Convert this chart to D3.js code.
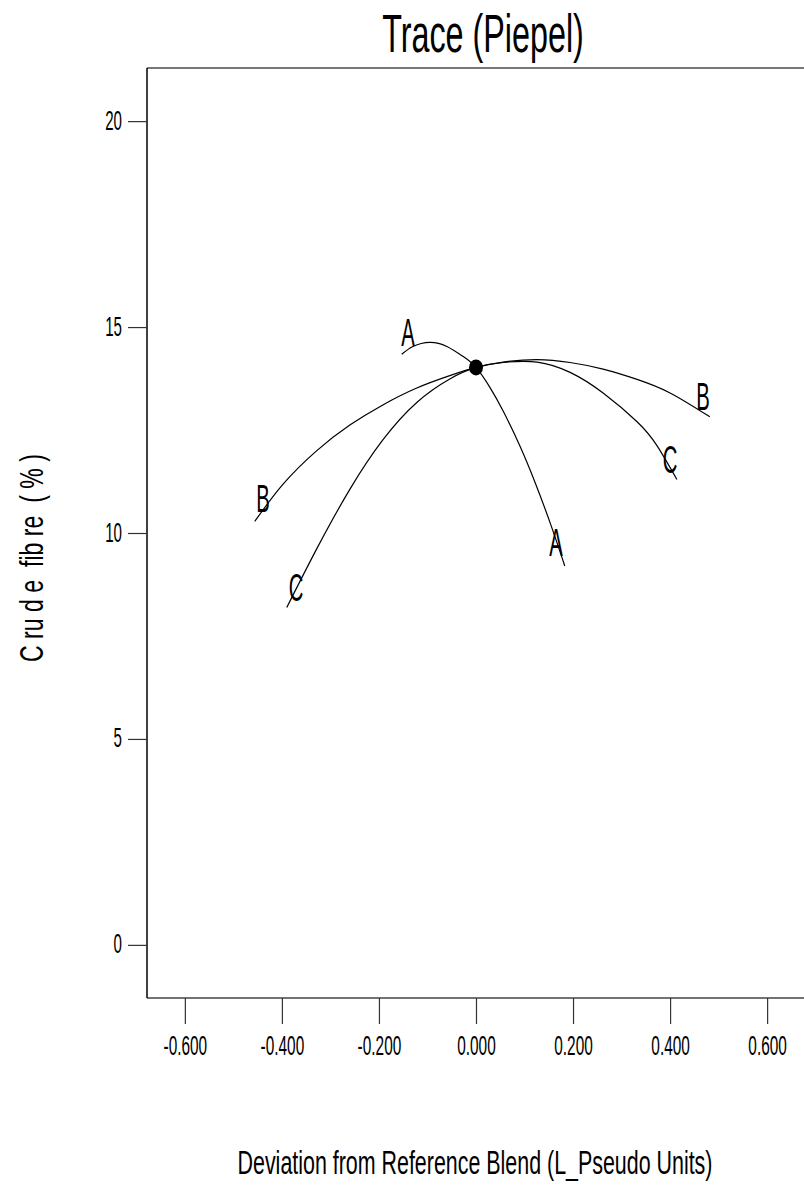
<!DOCTYPE html>
<html>
<head>
<meta charset="utf-8">
<script src="https://cdn.jsdelivr.net/npm/d3@7"></script>
<style>
  body { margin: 0; background: #fff; }
  text { font-family: "Liberation Sans", Arial, sans-serif; fill: #000; }
</style>
</head>
<body>
<div id="chart"></div>
<script>
// Trace (Piepel) data: x = deviation, y = crude fibre (%)
const traceA = [
  [-0.153, 14.34], [-0.130, 14.53], [-0.095, 14.63], [-0.060, 14.53], [-0.027, 14.29],
  [0, 14.02], [0.029, 13.53], [0.056, 12.96], [0.091, 12.10], [0.122, 11.22],
  [0.153, 10.24], [0.183, 9.20]
];
const traceB = [
  [-0.456, 10.28], [-0.398, 11.18], [-0.328, 12.00], [-0.260, 12.62], [-0.192, 13.11],
  [-0.122, 13.52], [-0.054, 13.82], [0, 14.02], [0.056, 14.15], [0.126, 14.21],
  [0.194, 14.14], [0.262, 13.98], [0.332, 13.73], [0.400, 13.40], [0.482, 12.82]
];
const traceC = [
  [-0.390, 8.19], [-0.328, 9.62], [-0.260, 11.06], [-0.192, 12.26], [-0.122, 13.17],
  [-0.054, 13.74], [0, 14.02], [0.056, 14.14], [0.126, 14.15], [0.194, 13.90],
  [0.262, 13.40], [0.332, 12.70], [0.373, 12.12], [0.414, 11.30]
];
const refBlend = [0, 14.02];

// component labels at the ends of each trace
const labelNames = ["A", "A", "B", "B", "C", "C"];
const labelPts = [
  [-0.140, 14.53], [0.165, 9.43], [-0.439, 10.50], [0.468, 12.98], [-0.371, 8.34], [0.400, 11.45]
];

const xTicks = [-0.6, -0.4, -0.2, 0, 0.2, 0.4, 0.6];
const yTicks = [0, 5, 10, 15, 20];

const W = 804, H = 1198;
const plot = { left: 147, top: 68, right: 804, bottom: 998 };

const svg = d3.select("#chart").append("svg")
  .attr("width", W)
  .attr("height", H);

const x = d3.scaleLinear().domain([-0.678, 0.676]).range([plot.left, plot.right]);
const y = d3.scaleLinear().domain([-1.29, 21.29]).range([plot.bottom, plot.top]);

// narrow the glyphs horizontally (the original uses a condensed face)
function squeeze(sel, k) {
  sel.each(function() {
    const t = d3.select(this);
    const x0 = +t.attr("x") || 0;
    t.attr("x", x0 / k).attr("transform", "scale(" + k + ",1)");
  });
}

// frame
svg.append("line")
  .attr("x1", plot.left).attr("x2", plot.right + 2).attr("y1", plot.top).attr("y2", plot.top)
  .attr("stroke", "#777").attr("stroke-width", 2);
svg.append("line")
  .attr("x1", plot.left).attr("x2", plot.right + 2).attr("y1", plot.bottom).attr("y2", plot.bottom)
  .attr("stroke", "#444").attr("stroke-width", 1.5);

// Y axis
const gy = svg.append("g")
  .attr("transform", "translate(" + plot.left + ",0)")
  .call(d3.axisLeft(y).tickValues(yTicks).tickSize(19).tickPadding(6).tickFormat(d3.format("d")));
gy.select(".domain").attr("stroke", "#000").attr("stroke-width", 1.5)
  .attr("d", "M0," + plot.top + "V" + plot.bottom);
gy.selectAll(".tick line").attr("stroke", "#333").attr("stroke-width", 1.2);
gy.selectAll(".tick text")
  .attr("font-size", 28).attr("dy", 0).attr("y", 8)
  .call(squeeze, 0.54);

// X axis
const gx = svg.append("g")
  .attr("transform", "translate(0," + plot.bottom + ")")
  .call(d3.axisBottom(x).tickValues(xTicks).tickSize(26).tickFormat(d => d.toFixed(3)));
gx.select(".domain").remove();
gx.selectAll(".tick line").attr("stroke", "#333").attr("stroke-width", 1.2);
gx.selectAll(".tick text")
  .attr("font-size", 28).attr("dy", 0).attr("y", 57)
  .call(squeeze, 0.55);

// traces
const line = d3.line()
  .x(d => x(d[0]))
  .y(d => y(d[1]))
  .curve(d3.curveNatural);

svg.selectAll(".trace")
  .data([traceA, traceB, traceC])
  .enter()
  .append("path")
    .attr("class", "trace")
    .attr("d", line)
    .attr("fill", "none")
    .attr("stroke", "#000")
    .attr("stroke-width", 1.2);

// reference blend
svg.append("ellipse")
  .attr("cx", x(refBlend[0]))
  .attr("cy", y(refBlend[1]))
  .attr("rx", 7).attr("ry", 8)
  .attr("fill", "#000");

// component labels
svg.selectAll(".comp")
  .data(labelPts)
  .enter()
  .append("g")
    .attr("transform", d => "translate(" + x(d[0]) + "," + y(d[1]) + ")")
  .append("text")
    .attr("text-anchor", "middle")
    .attr("font-size", 39)
    .attr("transform", "scale(0.52,1)")
    .text((d, i) => labelNames[i]);

// title
svg.append("g")
  .attr("transform", "translate(483,52)")
  .append("text")
    .attr("text-anchor", "middle")
    .attr("font-size", 53)
    .attr("transform", "scale(0.61,1)")
    .text("Trace (Piepel)");

// x label
svg.append("g")
  .attr("transform", "translate(475,1174)")
  .append("text")
    .attr("text-anchor", "middle")
    .attr("font-size", 34)
    .attr("transform", "scale(0.63,1)")
    .text("Deviation from Reference Blend (L_Pseudo Units)");

// y label
svg.append("g")
  .attr("transform", "translate(43,558) rotate(-90)")
  .append("text")
    .attr("text-anchor", "middle")
    .attr("font-size", 34)
    .attr("xml:space", "preserve")
    .style("white-space", "pre")
    .attr("transform", "scale(0.68,1)")
    .text("C ru d e  fib re  ( % )");
</script>
</body>
</html>
